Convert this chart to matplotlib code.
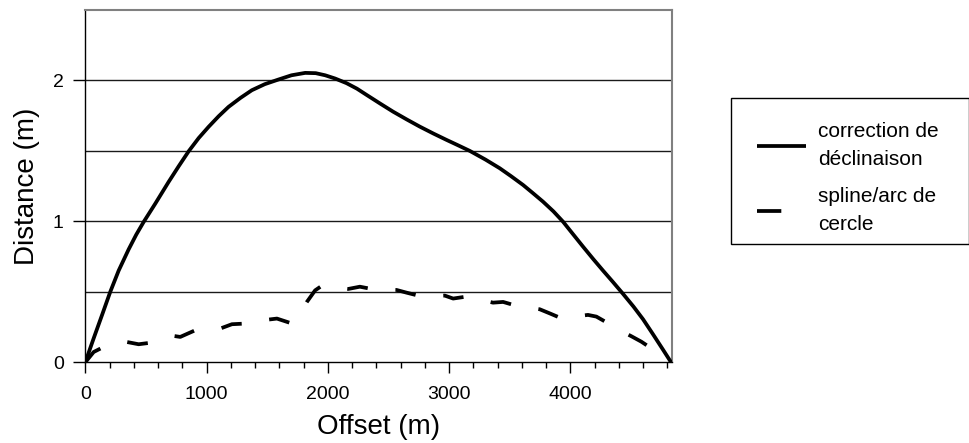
import matplotlib
matplotlib.use("Agg")
import matplotlib.pyplot as plt
from matplotlib.patches import Rectangle
from matplotlib.ticker import MultipleLocator, FixedLocator

plt.rcParams['font.family'] = ['Liberation Sans', 'DejaVu Sans']
plt.rcParams['lines.scale_dashes'] = False

# Offset (m) and distance (m) for the declination-corrected path
offset_corr = [0, 69, 140, 206, 275, 357, 420, 481, 577, 687, 770, 852, 935,
               1016, 1100, 1181, 1280, 1373, 1480, 1593, 1700, 1813, 1900,
               1978, 2060, 2154, 2240, 2319, 2430, 2538, 2650, 2758, 2870,
               2978, 3070, 3170, 3300, 3417, 3510, 3610, 3690, 3774, 3860,
               3939, 4020, 4104, 4190, 4269, 4350, 4434, 4520, 4599, 4680,
               4763, 4830]
dist_corr = [0.0, 0.17, 0.34, 0.50, 0.65, 0.80, 0.905, 0.995, 1.125, 1.279,
             1.39, 1.496, 1.59, 1.669, 1.745, 1.811, 1.875, 1.929, 1.972,
             2.005, 2.035, 2.052, 2.05, 2.035, 2.012, 1.979, 1.94, 1.896,
             1.835, 1.777, 1.722, 1.671, 1.622, 1.577, 1.54, 1.499, 1.437,
             1.376, 1.32, 1.257, 1.20, 1.139, 1.07, 0.997, 0.91, 0.82, 0.73,
             0.65, 0.57, 0.485, 0.395, 0.305, 0.20, 0.09, 0.0]

# Offset (m) and distance (m) for the spline / circular-arc path
offset_spline = [0, 69, 151, 250, 343, 440, 522, 620, 728, 783, 906, 1010,
                 1112, 1209, 1305, 1410, 1511, 1580, 1690, 1760, 1827, 1895,
                 1956, 2060, 2168, 2264, 2360, 2460, 2566, 2648, 2744, 2850,
                 2964, 3033, 3143, 3250, 3362, 3445, 3541, 3640, 3747, 3829,
                 3925, 4035, 4145, 4214, 4310, 4400, 4502, 4585, 4667, 4750,
                 4832]
dist_spline = [0.0, 0.073, 0.109, 0.13, 0.144, 0.128, 0.137, 0.16, 0.187,
               0.180, 0.227, 0.235, 0.239, 0.27, 0.274, 0.29, 0.303, 0.31,
               0.279, 0.33, 0.428, 0.51, 0.546, 0.53, 0.520, 0.536, 0.520,
               0.515, 0.513, 0.494, 0.473, 0.47, 0.473, 0.452, 0.466, 0.445,
               0.423, 0.428, 0.404, 0.39, 0.376, 0.347, 0.312, 0.325, 0.336,
               0.324, 0.277, 0.23, 0.185, 0.146, 0.099, 0.05, 0.0]

labels = ["correction de\ndéclinaison", "spline/arc de\ncercle"]
x_ticks = [0, 1000, 2000, 3000, 4000]
y_ticks = [0, 1, 2]
grid_levels = [0.5, 1.0, 1.5, 2.0]

W, H = 970, 443
fig = plt.figure(figsize=(W / 100, H / 100), dpi=100)
ax = fig.add_axes([85.3 / W, 1 - 362.3 / H, (672.3 - 85.3) / W, (362.3 - 9.7) / H])

# horizontal grid lines every 0.5 m
for g in grid_levels:
    ax.axhline(g, color='#1a1a1a', lw=1.0, zorder=1)

ax.plot(offset_corr, dist_corr, color='black', lw=2.7, solid_capstyle='butt',
        solid_joinstyle='round', label=labels[0], zorder=3)
ax.plot(offset_spline, dist_spline, color='black', lw=2.7, dashes=(15, 20),
        dash_capstyle='butt', dash_joinstyle='round', label=labels[1], zorder=3)

ax.set_xlim(0, 4840)
ax.set_ylim(0, 2.5)
ax.xaxis.set_major_locator(FixedLocator(x_ticks))
ax.xaxis.set_minor_locator(MultipleLocator(200))
ax.yaxis.set_major_locator(FixedLocator(y_ticks))
ax.tick_params(axis='x', which='major', direction='out', length=8, width=1,
               labelsize=14, pad=9)
ax.tick_params(axis='x', which='minor', direction='out', length=4.5, width=1)
ax.tick_params(axis='y', which='major', direction='out', length=8.5, width=1,
               labelsize=14, pad=7)

for s in ['left', 'bottom']:
    ax.spines[s].set_color('black')
    ax.spines[s].set_linewidth(1.0)
for s in ['top', 'right']:
    ax.spines[s].set_color('#808080')
    ax.spines[s].set_linewidth(1.5)

ax.set_xlabel("Offset (m)", fontsize=20, labelpad=8)
ax.set_ylabel("Distance (m)", fontsize=20, labelpad=9)

# legend entries without their own frame; the box is drawn separately
leg = fig.legend(loc='upper left', bbox_to_anchor=(757 / W, 1 - 122 / H),
                 fontsize=15, frameon=False, handlelength=2.35,
                 handletextpad=0.6, borderpad=0, labelspacing=0.88,
                 borderaxespad=0)
for t in leg.get_texts():
    t.set_linespacing(1.6)
leg.get_lines()[1].set_dashes((17.5, 30))
fig.patches.append(Rectangle((731 / W, 1 - 244 / H), 238 / W, 146 / H,
                             transform=fig.transFigure, fill=False,
                             edgecolor='black', linewidth=1.0))

fig.savefig("out.png", dpi=100)
